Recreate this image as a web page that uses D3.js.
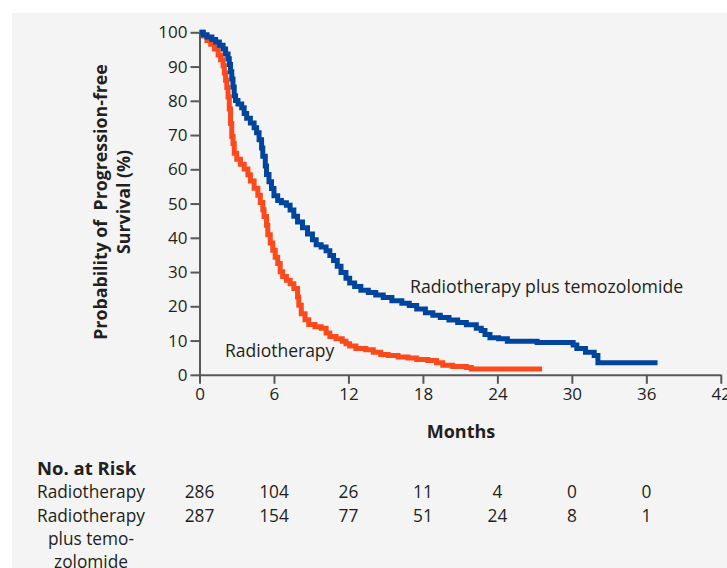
<!DOCTYPE html>
<html>
<head>
<meta charset="utf-8">
<script src="https://cdn.jsdelivr.net/npm/d3@7"></script>
<style>
  html, body { margin: 0; padding: 0; background: #ffffff; }
  svg { display: block; }
  text { font-family: "Open Sans", "DejaVu Sans", sans-serif; fill: #231f20; }
</style>
</head>
<body>
<svg id="chart" width="727" height="568"></svg>
<script>
// ---------- DATA ----------
const xTicks = [0, 6, 12, 18, 24, 30, 36, 42];
const yTicks = [0, 10, 20, 30, 40, 50, 60, 70, 80, 90, 100];

// Kaplan-Meier step knots [month, percent]
const rtMonths = [0, 0.3, 0.6, 0.9, 1.2, 1.5, 1.7, 1.9, 2.0, 2.1, 2.2, 2.3, 2.4, 2.5, 2.6, 2.7, 2.8, 3.0, 3.3, 3.6, 3.9, 4.1, 4.4, 4.7, 4.9, 5.1, 5.2, 5.4, 5.5, 5.7, 5.9, 6.1, 6.3, 6.5, 6.7, 7.0, 7.3, 7.6, 7.9, 8.0, 8.2, 8.5, 8.8, 9.3, 9.8, 10.2, 10.5, 11.0, 11.5, 11.8, 12.1, 12.6, 13.4, 14.0, 14.6, 15.2, 16.0, 16.8, 17.5, 18.4, 19.1, 19.6, 20.4, 21.5, 21.9, 27.6];
const rtSurvival = [100, 98.9, 97.6, 96.5, 95.1, 93.4, 92.0, 90.2, 88.1, 86.0, 83.9, 81.1, 77.6, 73.4, 69.6, 67.5, 64.7, 62.9, 61.5, 60.1, 58.4, 56.6, 54.5, 52.4, 50.3, 48.2, 46.2, 43.7, 40.9, 38.5, 36.4, 34.3, 32.5, 30.1, 28.7, 27.6, 26.6, 25.2, 22.7, 20.3, 17.8, 16.1, 14.7, 14.0, 13.6, 12.2, 11.2, 10.5, 9.8, 9.1, 8.4, 7.7, 7.3, 6.6, 5.9, 5.6, 5.2, 4.9, 4.5, 4.2, 3.5, 2.8, 2.4, 2.1, 1.7, 1.7];

const tmzMonths = [0, 0.3, 0.6, 1.0, 1.3, 1.6, 1.9, 2.1, 2.3, 2.4, 2.5, 2.6, 2.7, 2.8, 2.9, 3.1, 3.4, 3.6, 3.8, 4.1, 4.4, 4.6, 4.8, 5.0, 5.1, 5.3, 5.4, 5.6, 5.8, 6.0, 6.3, 6.6, 7.0, 7.3, 7.6, 7.9, 8.3, 8.7, 9.1, 9.4, 9.8, 10.2, 10.5, 10.8, 11.1, 11.4, 11.8, 12.1, 12.5, 13.0, 13.6, 14.2, 14.8, 15.5, 16.3, 16.9, 17.5, 18.2, 18.8, 19.4, 20.1, 20.8, 21.5, 22.3, 22.7, 23.0, 23.4, 24.1, 24.8, 27.2, 30.1, 30.4, 31.1, 31.8, 32.1, 36.9];
const tmzSurvival = [100, 99.3, 98.6, 97.9, 97.2, 96.2, 95.1, 93.7, 92.3, 90.6, 88.5, 86.4, 84.0, 81.5, 80.1, 79.1, 78.0, 76.3, 74.9, 73.5, 72.1, 70.7, 68.6, 66.2, 63.8, 61.0, 58.5, 56.4, 54.4, 52.3, 50.9, 50.2, 49.5, 48.1, 46.3, 44.6, 42.9, 41.1, 39.4, 38.0, 37.3, 36.2, 34.8, 33.4, 31.7, 29.9, 28.2, 26.8, 25.8, 24.7, 24.0, 23.3, 22.6, 21.6, 20.9, 20.2, 19.2, 18.1, 17.4, 16.7, 16.0, 15.3, 14.6, 13.6, 12.9, 11.8, 10.8, 10.5, 9.8, 9.4, 8.7, 7.7, 6.6, 5.6, 3.5, 3.5];

const seriesNames = ["Radiotherapy", "Radiotherapy plus temozolomide"];

// Number at risk table
const riskTitle = "No. at Risk";
const riskRowLabels = [["Radiotherapy"], ["Radiotherapy", "plus temo-", "zolomide"]];
const riskMonths = [0, 6, 12, 18, 24, 30, 36];
const riskRT = [286, 104, 26, 11, 4, 0, 0];
const riskTMZ = [287, 154, 77, 51, 24, 8, 1];

const yLabelLines = ["Probability of  Progression-free", "Survival (%)"];
const xLabel = "Months";

// ---------- DRAW ----------
const svg = d3.select("#chart");
const colorRT = "#fd4a1d";
const colorTMZ = "#00459d";
const axisColor = "#58585a";

svg.append("rect").attr("x", 12).attr("y", 13).attr("width", 715).attr("height", 555).attr("fill", "#f4f4f4");

const x = d3.scaleLinear().domain([0, 42]).range([199.5, 720.8]);
const y = d3.scaleLinear().domain([0, 100]).range([374.8, 32.3]);

// Y axis
const yAxis = d3.axisLeft(y).tickValues(yTicks).tickSize(9).tickPadding(3).tickSizeOuter(0);
const gy = svg.append("g").attr("transform", `translate(${x(0)},0)`).call(yAxis);
gy.select(".domain").attr("stroke", axisColor).attr("stroke-width", 2);
gy.selectAll(".tick line").attr("stroke", axisColor).attr("stroke-width", 2);
gy.selectAll(".tick text").attr("font-size", 17).attr("font-family", "Open Sans").attr("fill", "#231f20");

// X axis
const xAxis = d3.axisBottom(x).tickValues(xTicks).tickSize(9).tickPadding(4).tickSizeOuter(0);
const gx = svg.append("g").attr("transform", `translate(0,${y(0)})`).call(xAxis);
gx.select(".domain").attr("stroke", axisColor).attr("stroke-width", 2);
gx.selectAll(".tick line").attr("stroke", axisColor).attr("stroke-width", 2);
gx.selectAll(".tick text").attr("font-size", 17).attr("font-family", "Open Sans").attr("fill", "#231f20");

// Curves
const line = d3.line().x(d => x(d[0])).y(d => y(d[1])).curve(d3.curveStepAfter);
const rtData = rtMonths.map((m, i) => [m, rtSurvival[i]]);
const tmzData = tmzMonths.map((m, i) => [m, tmzSurvival[i]]);

svg.append("path").datum(rtData).attr("d", line)
  .attr("fill", "none").attr("stroke", colorRT).attr("stroke-width", 5).attr("stroke-linejoin", "miter");
svg.append("path").datum(tmzData).attr("d", line)
  .attr("fill", "none").attr("stroke", colorTMZ).attr("stroke-width", 5).attr("stroke-linejoin", "miter");

// Curve labels
svg.append("text").attr("x", 410).attr("y", 293).attr("font-size", 17.7).text(seriesNames[1]);
svg.append("text").attr("x", 225).attr("y", 357).attr("font-size", 17.5).text(seriesNames[0]);

// Axis labels
yLabelLines.forEach((t, i) => {
  svg.append("text")
    .attr("transform", `translate(${107 + i * 23},202) rotate(-90)`)
    .attr("text-anchor", "middle")
    .attr("font-size", 17.8).attr("font-weight", "bold")
    .style("white-space", "pre")
    .text(t);
});
svg.append("text").attr("x", 461).attr("y", 438).attr("text-anchor", "middle")
  .attr("font-size", 18).attr("font-weight", "bold").text(xLabel);

// Risk table
svg.append("text").attr("x", 37).attr("y", 475).attr("font-size", 18.5).attr("font-weight", "bold").text(riskTitle);
const rowY = [498, 522];
const riskRows = [riskRT, riskTMZ];
riskRowLabels.forEach((lines, r) => {
  lines.forEach((t, k) => {
    svg.append("text")
      .attr("x", k === 0 ? 37 : 91)
      .attr("y", rowY[r] + k * 23)
      .attr("text-anchor", k === 0 ? "start" : "middle")
      .attr("font-size", 17.3).text(t);
  });
  svg.append("g").selectAll("text").data(riskRows[r]).join("text")
    .attr("x", (d, i) => x(riskMonths[i]))
    .attr("y", rowY[r])
    .attr("text-anchor", "middle")
    .attr("font-size", 17.3)
    .text(d => d);
});
</script>
</body>
</html>
